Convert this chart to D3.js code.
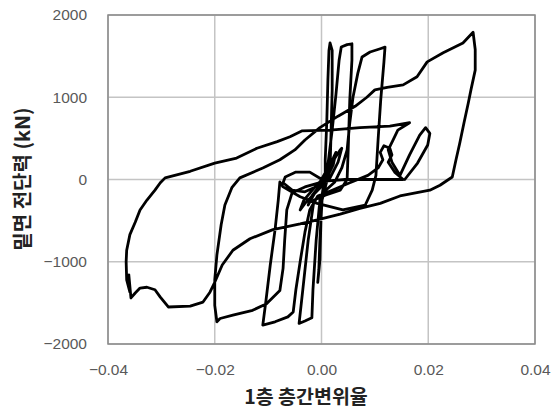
<!DOCTYPE html>
<html>
<head>
<meta charset="utf-8">
<script src="https://cdn.jsdelivr.net/npm/d3@7/dist/d3.min.js"></script>
<style>
  html, body { margin: 0; padding: 0; background: #fff; }
  svg { display: block; }
</style>
</head>
<body>
<div id="chart"></div>
<script>
// Base shear vs. first-storey drift ratio, cyclic test record
const drift = [
  0.0000, 0.0012, 0.0022, 0.0027, 0.0022, 0.0010, -0.0007, -0.0018, -0.0025, -0.0018,
  -0.0003, 0.0008, 0.0023, 0.0035, 0.0038, 0.0031, 0.0016, -0.0007, -0.0031, -0.0040,
  -0.0033, -0.0012, 0.0001, -0.0022, -0.0048, -0.0068, -0.0072, -0.0055, -0.0031, -0.0007,
  0.0007,
  0.0007, 0.0010, 0.0012, 0.0014, 0.0016, 0.0020, 0.0020, 0.0018, 0.0016, 0.0008,
  0.0001, -0.0003, -0.0005, -0.0007, -0.0003, -0.0001, 0.0001, 0.0005,
  0.0012, 0.0020, 0.0027, 0.0033, 0.0037, 0.0048, 0.0057, 0.0057, 0.0053, 0.0050,
  0.0048, 0.0035, 0.0007, -0.0014, -0.0025, -0.0035, -0.0042, -0.0031, -0.0018, -0.0016,
  -0.0010, -0.0003, 0.0008,
  0.0025, 0.0038, 0.0048, 0.0053, 0.0059, 0.0068, 0.0076, 0.0091, 0.0110, 0.0119,
  0.0117, 0.0111, 0.0106, 0.0102, 0.0095, 0.0082, 0.0040, -0.0008, -0.0040, -0.0072,
  -0.0078, -0.0081, -0.0087, -0.0096, -0.0104, -0.0110, -0.0087, -0.0063, -0.0053, -0.0048,
  -0.0040, -0.0031, -0.0022, -0.0007,
  0.0020, 0.0053, 0.0087, 0.0106, 0.0115, 0.0110, 0.0117, 0.0128, 0.0132, 0.0125,
  0.0137, 0.0153, 0.0137, 0.0091, 0.0044, 0.0007, -0.0031, -0.0055, -0.0065, -0.0069,
  -0.0072, -0.0078, -0.0103, -0.0129, -0.0166, -0.0190, -0.0196, -0.0200, -0.0200,
  -0.0196, -0.0188, -0.0181, -0.0168, -0.0153, -0.0110, -0.0078, -0.0050, -0.0031, -0.0003,
  0.0031, 0.0063, 0.0085, 0.0100, 0.0123, 0.0153, 0.0179, 0.0198, 0.0228, 0.0265,
  0.0284,
  0.0288, 0.0288, 0.0280, 0.0275, 0.0267, 0.0259, 0.0252, 0.0245, 0.0222, 0.0203,
  0.0147, 0.0110, 0.0072, 0.0035, -0.0008, -0.0040, -0.0091, -0.0134, -0.0166, -0.0186,
  -0.0200, -0.0209, -0.0222, -0.0246, -0.0287, -0.0302, -0.0312, -0.0327, -0.0340, -0.0349,
  -0.0357, -0.0361, -0.0359, -0.0365, -0.0366, -0.0365, -0.0359, -0.0349, -0.0340, -0.0327,
  -0.0312, -0.0302, -0.0293, -0.0246, -0.0200, -0.0159, -0.0121, -0.0083, -0.0059, -0.0037,
  0.0016, 0.0072, 0.0128, 0.0165, 0.0143, 0.0134, 0.0125, 0.0132, 0.0147, 0.0165,
  0.0184, 0.0195, 0.0203, 0.0199, 0.0180, 0.0156
];

const shear = [
  0, 140, 260, 330, 180, 20, -100, -225, -310, -200,
  -70, 40, 240, 360, 380, 210, 20, -130, -290, -370,
  -250, -90, 0, 90, 90, 30, -40, -130, -150, -80,
  0,
  240, 720, 1210, 1570, 1660, 1570, 1090, 600, 120, -70,
  -250, -740, -1100, -1250, -980, -490, -190, -40,
  180, 600, 1030, 1450, 1610, 1640, 1650, 1450, 970, 360,
  0, -130, -190, -250, -740, -1340, -1750, -1720, -1680, -1340,
  -740, -250, -130,
  -30, 140, 360, 690, 1000, 1290, 1490, 1550, 1590, 1610,
  1430, 970, 480, 50, -130, -310, -370, -290, -210, -90,
  -30, -250, -610, -1040, -1470, -1770, -1730, -1670, -1610, -1340,
  -1000, -640, -370, -200,
  -130, -40, 50, 140, 240, 330, 410, 380, 300, 210,
  90, 0, 0, 0, 0, -20, -90, -160, -370, -740,
  -1080, -1350, -1510, -1590, -1650, -1690, -1730, -1530, -1220,
  -920, -550, -310, -100, 20, 140, 240, 360, 480, 630,
  770, 890, 1000, 1090, 1120, 1150, 1250, 1430, 1540, 1660,
  1790,
  1580, 1330, 1090, 930, 690, 440, 240, 30, -70, -130,
  -200, -290, -350, -420, -490, -540, -610, -720, -860, -1040,
  -1250, -1370, -1490, -1540, -1550, -1430, -1340, -1310, -1320, -1380,
  -1440, -1160, -1370, -1220, -1000, -860, -670, -520, -370, -250,
  -130, -40, 20, 100, 200, 260, 380, 460, 520, 590,
  600, 630, 650, 690, 600, 480, 360, 210, 50, 300,
  540, 630, 560, 420, 200, 0
];

const xTicks = [-0.04, -0.02, 0.00, 0.02, 0.04];
const yTicks = [-2000, -1000, 0, 1000, 2000];
const xTitle = "1층 층간변위율";
const yTitle = "밑면 전단력 (kN)";

const W = 555, H = 410;
const margin = { left: 108, right: 20, top: 15, bottom: 66 };

const svg = d3.select("#chart").append("svg")
  .attr("width", W).attr("height", H);

const x = d3.scaleLinear().domain([-0.04, 0.04]).range([margin.left, W - margin.right]);
const y = d3.scaleLinear().domain([-2000, 2000]).range([H - margin.bottom, margin.top]);

const font = "'Liberation Sans', Arial, sans-serif";

// grid lines
const grid = svg.append("g");
grid.selectAll(".vg").data(xTicks).enter().append("line")
  .attr("x1", d => x(d)).attr("x2", d => x(d))
  .attr("y1", y(-2000)).attr("y2", y(2000))
  .attr("stroke", "#c4c4c4").attr("stroke-width", 1.5);
grid.selectAll(".hg").data(yTicks).enter().append("line")
  .attr("x1", x(-0.04)).attr("x2", x(0.04))
  .attr("y1", d => y(d)).attr("y2", d => y(d))
  .attr("stroke", "#c4c4c4").attr("stroke-width", 1.5);

// axes
const xAxis = d3.axisBottom(x).tickValues(xTicks).tickFormat(d3.format(".2f")).tickSize(0).tickPadding(20);
const yAxis = d3.axisLeft(y).tickValues(yTicks).tickFormat(d3.format("d")).tickSize(0).tickPadding(21);

const gx = svg.append("g").attr("transform", `translate(0,${y(-2000)})`).call(xAxis);
const gy = svg.append("g").attr("transform", `translate(${x(-0.04)},0)`).call(yAxis);
[gx, gy].forEach(g => {
  g.select(".domain").remove();
  g.selectAll("text").attr("fill", "#595959").style("font-family", font).style("font-size", "15.5px");
});

// plot frame
svg.append("rect")
  .attr("x", x(-0.04)).attr("y", y(2000))
  .attr("width", x(0.04) - x(-0.04)).attr("height", y(-2000) - y(2000))
  .attr("fill", "none").attr("stroke", "#8a8a8a").attr("stroke-width", 1.5);

// hysteresis curve
const pts = drift.map((d, i) => [d, shear[i]]);
const line = d3.line().x(d => x(d[0])).y(d => y(d[1])).curve(d3.curveLinear);
svg.append("path").datum(pts)
  .attr("d", line)
  .attr("fill", "none").attr("stroke", "#000").attr("stroke-width", 2.8)
  .attr("stroke-linejoin", "round").attr("stroke-linecap", "round");

// axis titles
svg.append("text")
  .attr("x", 306).attr("y", 404)
  .attr("text-anchor", "middle")
  .style("font-family", "'Noto Sans CJK KR', sans-serif")
  .style("font-size", "19.5px").style("font-weight", "bold").attr("fill", "#222")
  .text(xTitle);

svg.append("text")
  .attr("transform", "translate(30,179) rotate(-90)")
  .attr("text-anchor", "middle")
  .style("font-family", "'Noto Sans CJK KR', sans-serif")
  .style("font-size", "20px").style("font-weight", "bold").attr("fill", "#222")
  .text(yTitle);
</script>
</body>
</html>
